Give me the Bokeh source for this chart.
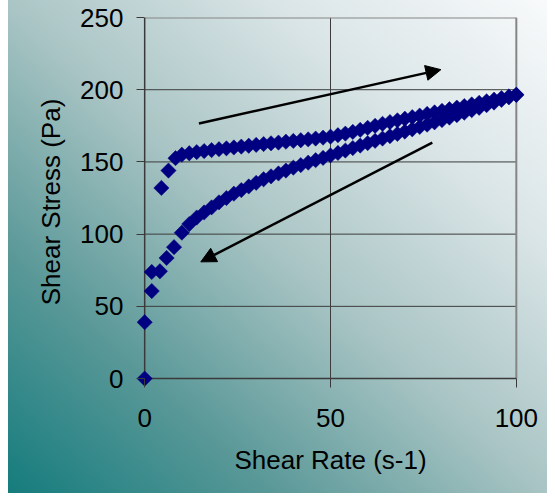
from bokeh.plotting import figure
from bokeh.models import Arrow, NormalHead, FixedTicker, Range1d
from bokeh.embed import file_html
from bokeh.resources import INLINE

# ---- data ----
up_rate = [0, 4.5, 6.4, 8.3,
           10, 12, 14, 16, 18, 20, 22, 24, 26, 28, 30, 32, 34, 36, 38, 40,
           42, 44, 46, 48, 50, 52, 54, 56, 58, 60, 62, 64, 66, 68, 70,
           72, 74, 76, 78, 80, 82, 84, 86, 88, 90, 92, 94, 96, 98, 100]
up_stress = [0, 132, 144, 152.6,
             155, 156, 156.8, 157.5, 158.2, 158.8, 159.4, 160, 160.6, 161.2, 161.8,
             162.4, 162.9, 163.4, 164, 164.5, 165, 165.6, 166.2, 166.8, 167.5,
             168.5, 169.6, 170.8, 172.2, 173.6, 175, 176.4, 177.6, 178.8, 179.9,
             181, 182.1, 183.2, 184.3, 185.4, 186.5, 187.6, 188.7, 189.8, 190.9,
             192, 193.1, 194.2, 195.3, 196.5]

down_rate = [100, 98, 96, 94, 92, 90, 88, 86, 84, 82, 80, 78, 76, 74, 72, 70,
             68, 66, 64, 62, 60, 58, 56, 54, 52, 50, 48, 46, 44, 42, 40, 38, 36,
             34, 32, 30, 28, 26, 24, 22, 20, 18, 16, 14, 12, 10,
             7.9, 5.9, 4.1, 1.9, 1.9, 0]
down_stress = [196.5, 194.7, 192.9, 191.1, 189.3, 187.5, 185.8, 184.1, 182.4, 180.7,
               179, 177.4, 175.8, 174.2, 172.6, 171, 169.4, 167.8, 166.2, 164.6,
               163, 161.3, 159.6, 157.9, 156.2, 154.5, 152.8, 151.2, 149.5, 147.8,
               146, 144, 142, 140, 138, 135.5, 133, 130.5, 128, 125, 122,
               118.5, 115, 111.5, 107, 101,
               91, 83.5, 74.3, 73.8, 60.6, 39]

x_ticks = [0, 50, 100]
y_ticks = [0, 50, 100, 150, 200, 250]

# arrows: [up-sweep, down-sweep]
arrow_x_start = [14.6, 77.4]
arrow_y_start = [176.6, 163.4]
arrow_x_end = [79.7, 15.1]
arrow_y_end = [213.9, 80.8]

FONT = "Liberation Sans"
MARK = "#000080"
AXIS = "#3a3a3a"

p = figure(width=547, height=493, output_backend="svg", toolbar_location=None,
           x_range=Range1d(-2.2, 102.2), y_range=Range1d(-5.5, 250),
           min_border_left=136, min_border_right=23, min_border_top=17,
           min_border_bottom=107,
           background_fill_color=None, border_fill_color=None,
           outline_line_color=None,
           styles={"background-image":
                   "linear-gradient(to right, #ffffff 0px, #ffffff 8px, rgba(255,255,255,0) 8px), "
                   "linear-gradient(to top right, #137b7c 0%, #5a9898 25%, "
                   "#a9c4c4 50%, #dae5e7 75%, #f8fafb 100%)"})
p.xgrid.visible = False
p.ygrid.visible = False

# grid lines built from tick lists
gx0, gy0, gx1, gy1 = [], [], [], []
for yv in y_ticks[1:-1]:
    gx0.append(x_ticks[0]); gy0.append(yv); gx1.append(x_ticks[-1]); gy1.append(yv)
for xv in x_ticks[1:-1]:
    gx0.append(xv); gy0.append(y_ticks[0]); gx1.append(xv); gy1.append(y_ticks[-1])
p.segment(x0=gx0, y0=gy0, x1=gx1, y1=gy1, line_color="#3c3c3c", line_width=1)
# top / right frame borders
p.segment(x0=[x_ticks[0], x_ticks[-1]], y0=[y_ticks[-1], y_ticks[0]],
          x1=[x_ticks[-1], x_ticks[-1]], y1=[y_ticks[-1], y_ticks[-1]],
          line_color="#858585", line_width=2)
# axis lines at x = 0 and y = 0
p.segment(x0=[x_ticks[0], x_ticks[0]], y0=[y_ticks[0], y_ticks[0]],
          x1=[x_ticks[0], x_ticks[-1]], y1=[y_ticks[-1], y_ticks[0]],
          line_color=AXIS, line_width=1.5)

p.scatter(up_rate, up_stress, marker="square", angle=0.785398, size=10.8,
          fill_color=MARK, line_color=MARK, line_width=0.5)
p.scatter(down_rate, down_stress, marker="square", angle=0.785398, size=10.8,
          fill_color=MARK, line_color=MARK, line_width=0.5)

for i in range(len(arrow_x_start)):
    p.add_layout(Arrow(x_start=arrow_x_start[i], y_start=arrow_y_start[i],
                       x_end=arrow_x_end[i], y_end=arrow_y_end[i],
                       line_color="black", line_width=2.5,
                       end=NormalHead(size=15, fill_color="black", line_color="black",
                                      line_width=1)))

for ax, ticks in ((p.xaxis[0], x_ticks), (p.yaxis[0], y_ticks)):
    ax.ticker = FixedTicker(ticks=ticks)
    ax.axis_line_color = None
    ax.major_tick_line_color = AXIS
    ax.major_tick_line_width = 1
    ax.minor_tick_line_color = None
    ax.major_label_text_font = FONT
    ax.major_label_text_font_size = "26px"
    ax.major_label_text_color = "black"
    ax.axis_label_text_font = FONT
    ax.axis_label_text_font_size = "26px"
    ax.axis_label_text_font_style = "normal"
    ax.axis_label_text_color = "black"

p.yaxis.major_tick_in = 8
p.yaxis.major_tick_out = 0
p.xaxis.major_tick_in = 8
p.xaxis.major_tick_out = 1

p.xaxis.axis_label = "Shear Rate (s-1)"
p.yaxis.axis_label = "Shear Stress (Pa)"
p.xaxis.major_label_standoff = 21
p.xaxis.axis_label_standoff = 15
p.yaxis.major_label_standoff = 13
p.yaxis.axis_label_standoff = 11

open("out.html", "w").write(file_html(p, INLINE))
